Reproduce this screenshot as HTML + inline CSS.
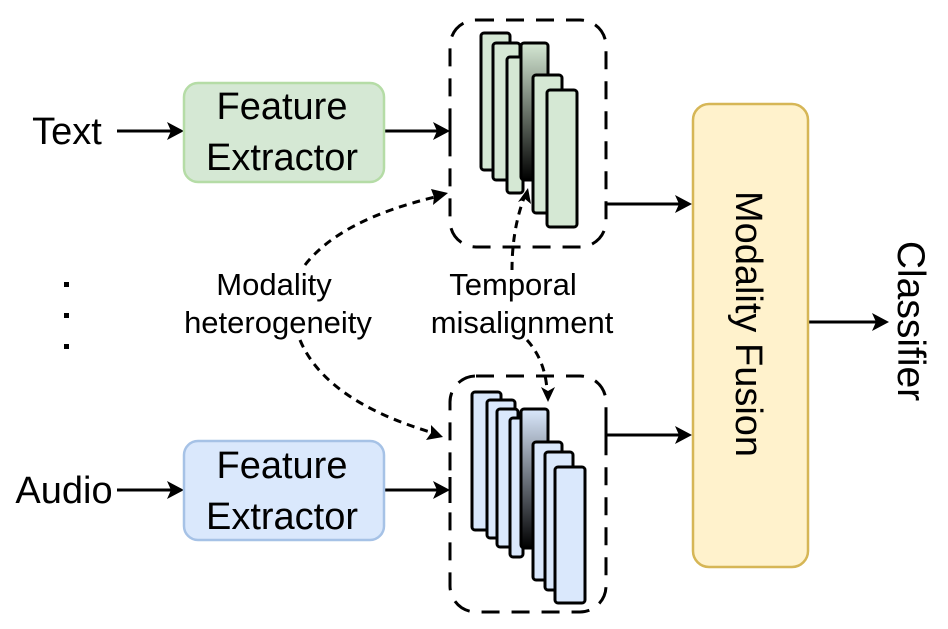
<!DOCTYPE html>
<html><head><meta charset="utf-8"><style>
html,body{margin:0;padding:0;background:#fff}
svg{display:block}
text{font-family:"Liberation Sans",Arial,sans-serif;fill:#000}
</style></head><body>
<svg width="948" height="629" viewBox="0 0 948 629" xmlns="http://www.w3.org/2000/svg">
<defs>
<linearGradient id="gg" x1="0" y1="0" x2="0" y2="1"><stop offset="0" stop-color="#d5e8d4"/><stop offset="1" stop-color="#000"/></linearGradient>
<linearGradient id="gb" x1="0" y1="0" x2="0" y2="1"><stop offset="0" stop-color="#dae8fc"/><stop offset="1" stop-color="#000"/></linearGradient>
</defs>
<g stroke="#000" stroke-width="3" fill="none">
<line x1="117" y1="131" x2="172" y2="131"/>
<line x1="384" y1="131" x2="438" y2="131"/>
<line x1="117" y1="490" x2="172" y2="490"/>
<line x1="384" y1="490" x2="438" y2="490"/>
<line x1="606" y1="204" x2="680" y2="204"/>
<line x1="606" y1="435" x2="680" y2="435"/>
<line x1="808" y1="322" x2="876" y2="322"/>
<line x1="450" y1="118" x2="450" y2="144"/>
<line x1="450" y1="477" x2="450" y2="503"/>
<line x1="606" y1="422" x2="606" y2="448"/>
</g>
<g fill="#000">
<polygon points="184,131 167,122 171,131 167,140"/>
<polygon points="450,131 433,122 437,131 433,140"/>
<polygon points="184,490 167,481 171,490 167,499"/>
<polygon points="450,490 433,481 437,490 433,499"/>
<polygon points="692,204 675,195 679,204 675,213"/>
<polygon points="692,435 675,426 679,435 675,444"/>
<polygon points="889,322 872,313 876,322 872,331"/>
</g>
<rect x="184" y="83" width="200" height="99" rx="14" fill="#d5e8d4" stroke="#b5dca6" stroke-width="2.5"/>
<rect x="184" y="441" width="200" height="99" rx="14" fill="#dae8fc" stroke="#a6c2e6" stroke-width="2.5"/>
<rect x="693" y="104" width="115" height="463" rx="16" fill="#fff2cc" stroke="#d6b656" stroke-width="2.5"/>
<rect x="450" y="20" width="156" height="227" rx="26" fill="none" stroke="#000" stroke-width="3" stroke-dasharray="18,12"/>
<rect x="450" y="376" width="156" height="236" rx="26" fill="none" stroke="#000" stroke-width="3" stroke-dasharray="18,12"/>
<g stroke="#000" stroke-width="3">
<rect x="481" y="33" width="29" height="137" rx="3" fill="#d5e8d4"/>
<rect x="493" y="43" width="27" height="137" rx="3" fill="#d5e8d4"/>
<rect x="507" y="57" width="16" height="136" rx="3" fill="#d5e8d4"/>
<rect x="521" y="43" width="27" height="137" rx="3" fill="url(#gg)"/>
<rect x="533" y="75" width="29" height="138" rx="3" fill="#d5e8d4"/>
<rect x="547" y="90" width="30" height="137" rx="3" fill="#d5e8d4"/>
</g>
<g stroke="#000" stroke-width="3">
<rect x="472" y="392" width="29" height="138" rx="3" fill="#dae8fc"/>
<rect x="487" y="400" width="28" height="138" rx="3" fill="#dae8fc"/>
<rect x="497" y="409" width="21" height="138" rx="3" fill="#dae8fc"/>
<rect x="510" y="418" width="13" height="139" rx="3" fill="#dae8fc"/>
<rect x="521" y="409" width="27" height="139" rx="3" fill="url(#gb)"/>
<rect x="533" y="442" width="29" height="138" rx="3" fill="#dae8fc"/>
<rect x="545" y="452" width="28" height="138" rx="3" fill="#dae8fc"/>
<rect x="555" y="467" width="30" height="136" rx="3" fill="#dae8fc"/>
</g>
<g stroke="#000" stroke-width="3" fill="none" stroke-dasharray="8,6">
<path d="M305,265 Q340,220 435,197"/>
<path d="M300,340 Q325,400 430,432"/>
<path d="M512,270 Q512,230 524,198"/>
<path d="M527,340 Q545,360 547,390"/>
</g>
<g fill="#000">
<polygon points="448,193 431,189 434,197 433,205"/>
<polygon points="443,437 431,425 431,433 426,440"/>
<polygon points="528,188 518,202 525,199 531,204"/>
<polygon points="548,402 541,387 548,391 555,387"/>
</g>
<rect x="64" y="282" width="5" height="5"/><rect x="64" y="313" width="5" height="5"/><rect x="64" y="344" width="5" height="5"/>
<text x="67" y="144" font-size="38" text-anchor="middle">Text</text>
<text x="64" y="503" font-size="38" text-anchor="middle">Audio</text>
<text x="282" y="119" font-size="38" text-anchor="middle">Feature</text>
<text x="282" y="170" font-size="38" text-anchor="middle">Extractor</text>
<text x="282" y="478" font-size="38" text-anchor="middle">Feature</text>
<text x="282" y="529" font-size="38" text-anchor="middle">Extractor</text>
<text x="274" y="295" font-size="31" text-anchor="middle">Modality</text>
<text x="278" y="333" font-size="31" text-anchor="middle">heterogeneity</text>
<text x="513" y="295" font-size="31" text-anchor="middle">Temporal</text>
<text x="522" y="333" font-size="31" text-anchor="middle">misalignment</text>
<text transform="translate(736,324) rotate(90)" font-size="38" text-anchor="middle">Modality Fusion</text>
<text transform="translate(898,321) rotate(90)" font-size="39" text-anchor="middle">Classifier</text>
</svg>
</body></html>
